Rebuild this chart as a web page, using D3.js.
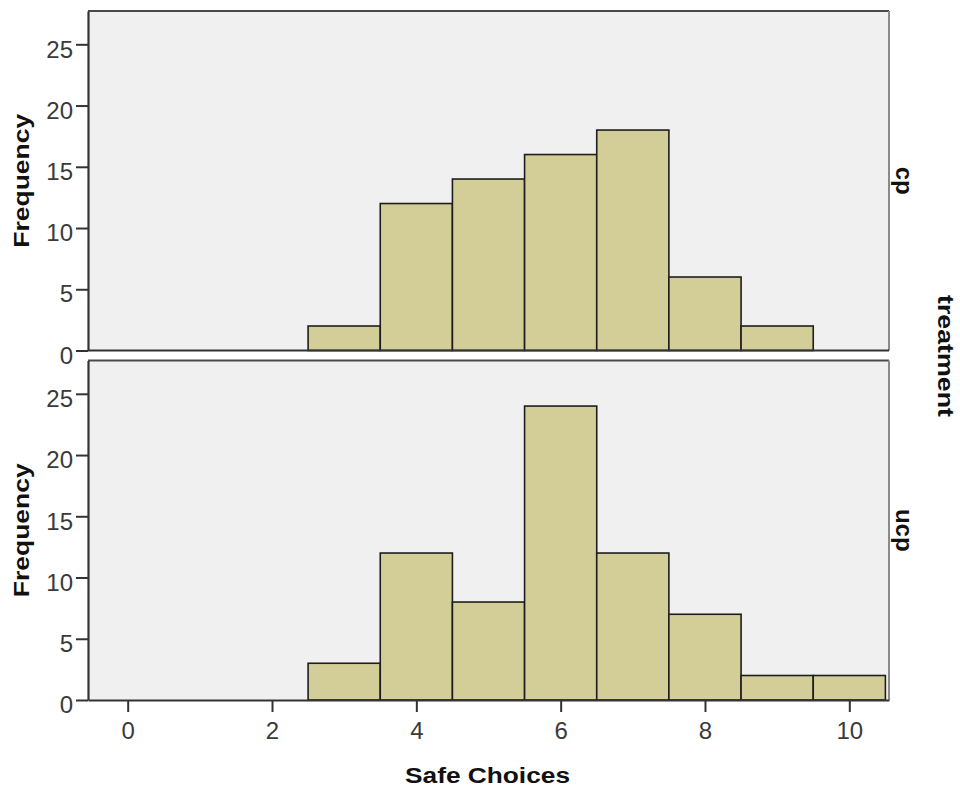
<!DOCTYPE html>
<html>
<head>
<meta charset="utf-8">
<script src="https://cdn.jsdelivr.net/npm/d3@7"></script>
<style>
  html, body { margin: 0; padding: 0; background: #ffffff; }
  svg { display: block; }
</style>
</head>
<body>
<svg id="chart" width="960" height="789"></svg>
<script>
// ---- data ----
const binCenters = [0, 1, 2, 3, 4, 5, 6, 7, 8, 9, 10];
const cpCounts  = [0, 0, 0, 2, 12, 14, 16, 18, 6, 2, 0];
const ucpCounts = [0, 0, 0, 3, 12, 8, 24, 12, 7, 2, 2];
const panelNames = ["cp", "ucp"];
const xTickValues = [0, 2, 4, 6, 8, 10];
const yTickValues = [0, 5, 10, 15, 20, 25];
const xLabel = "Safe Choices";
const yLabel = "Frequency";
const facetLabel = "treatment";

// ---- layout ----
const svg = d3.select("#chart");
const left = 88, right = 889;
const panelTops = [11, 360.5];
const panelH = 339.5;
const fillBg = "#f0f0f0";
const barFill = "#d3ce97";

const x = d3.scaleLinear().domain([-0.55, 10.55]).range([left, right]);

const seriesList = [cpCounts, ucpCounts];

panelNames.forEach((name, i) => {
  const top = panelTops[i];
  const bottom = top + panelH;
  const y = d3.scaleLinear().domain([0, 27.72]).range([bottom, top]);
  const g = svg.append("g");

  // background
  g.append("rect")
    .attr("x", left).attr("y", top)
    .attr("width", right - left).attr("height", panelH)
    .attr("fill", fillBg);

  // bars
  const data = binCenters.map((c, k) => ({ c, v: seriesList[i][k] })).filter(d => d.v > 0);
  g.selectAll("rect.bar").data(data).enter().append("rect")
    .attr("class", "bar")
    .attr("x", d => x(d.c - 0.5))
    .attr("width", d => x(d.c + 0.5) - x(d.c - 0.5))
    .attr("y", d => y(d.v))
    .attr("height", d => y(0) - y(d.v))
    .attr("fill", barFill)
    .attr("stroke", "#1e1e1e")
    .attr("stroke-width", 1.6);

  // frame: top and right
  g.append("line").attr("x1", left).attr("x2", right).attr("y1", top).attr("y2", top)
    .attr("stroke", "#4a4a4a").attr("stroke-width", 2);
  g.append("line").attr("x1", right).attr("x2", right).attr("y1", top).attr("y2", bottom)
    .attr("stroke", "#8a8a8a").attr("stroke-width", 2);

  // y axis
  const yAxis = d3.axisLeft(y).tickValues(yTickValues).tickSize(12).tickPadding(3).tickSizeOuter(0);
  const ya = g.append("g").attr("transform", `translate(${left},0)`).call(yAxis);
  ya.select(".domain").attr("stroke", "#333").attr("stroke-width", 2.2);
  ya.selectAll(".tick line").attr("stroke", "#333").attr("stroke-width", 2);
  ya.selectAll(".tick text")
    .attr("font-family", "'Liberation Sans', Arial, sans-serif")
    .attr("font-size", 24).attr("fill", "#3a3a3a")
    .attr("dy", "0.53em");

  // bottom line
  if (i === 1) {
    const xAxis = d3.axisBottom(x).tickValues(xTickValues).tickSize(12).tickPadding(10).tickSizeOuter(0);
    const xa = g.append("g").attr("transform", `translate(0,${bottom})`).call(xAxis);
    xa.select(".domain").attr("stroke", "#333").attr("stroke-width", 2.2);
    xa.selectAll(".tick line").attr("stroke", "#333").attr("stroke-width", 2);
    xa.selectAll(".tick text")
      .attr("font-family", "'Liberation Sans', Arial, sans-serif")
      .attr("font-size", 24).attr("fill", "#3a3a3a")
      .attr("dy", "0.72em");
  } else {
    g.append("line").attr("x1", left).attr("x2", right).attr("y1", bottom).attr("y2", bottom)
      .attr("stroke", "#333").attr("stroke-width", 2.2);
  }

  // y label
  const cy = (top + bottom) / 2;
  g.append("text")
    .attr("transform", `translate(29,${cy}) rotate(-90)`)
    .attr("text-anchor", "middle")
    .attr("font-family", "'Liberation Sans', Arial, sans-serif")
    .attr("font-weight", "bold").attr("font-size", 22)
    .attr("textLength", 134).attr("lengthAdjust", "spacingAndGlyphs")
    .attr("fill", "#111")
    .text(yLabel);

  // facet strip label
  g.append("text")
    .attr("transform", `translate(${896},${cy}) rotate(90)`)
    .attr("text-anchor", "middle")
    .attr("font-family", "'Liberation Sans', Arial, sans-serif")
    .attr("font-weight", "bold").attr("font-size", 24)
    .attr("fill", "#111")
    .text(name);
});

// x label
svg.append("text")
  .attr("x", 487.5).attr("y", 783)
  .attr("text-anchor", "middle")
  .attr("font-family", "'Liberation Sans', Arial, sans-serif")
  .attr("font-weight", "bold").attr("font-size", 22)
  .attr("textLength", 165).attr("lengthAdjust", "spacingAndGlyphs")
  .attr("fill", "#111")
  .text(xLabel);

// facet title
svg.append("text")
  .attr("transform", `translate(938,356) rotate(90)`)
  .attr("text-anchor", "middle")
  .attr("font-family", "'Liberation Sans', Arial, sans-serif")
  .attr("font-weight", "bold").attr("font-size", 22)
  .attr("textLength", 122).attr("lengthAdjust", "spacingAndGlyphs")
  .attr("fill", "#111")
  .text(facetLabel);
</script>
</body>
</html>
